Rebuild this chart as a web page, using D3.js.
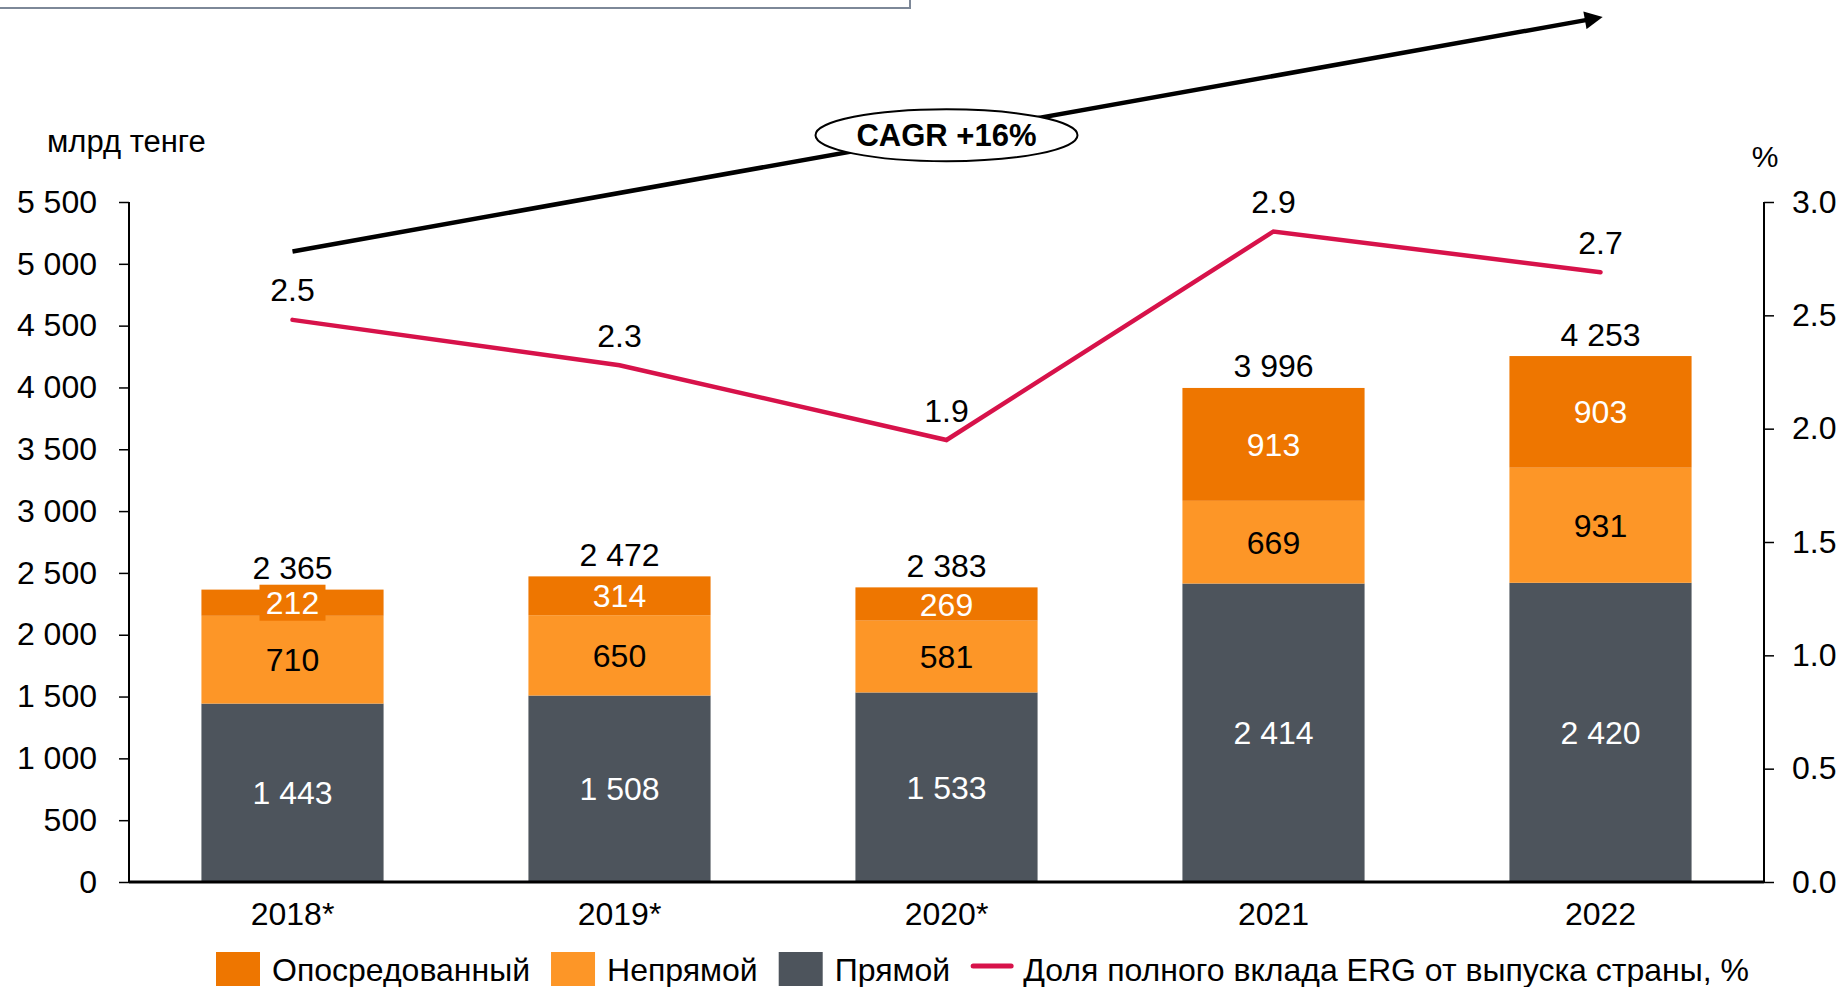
<!DOCTYPE html>
<html><head><meta charset="utf-8">
<script src="https://cdn.jsdelivr.net/npm/d3@7"></script>
<style>
html,body{margin:0;padding:0;background:#fff;}
text{font-family:"Liberation Sans",Arial,sans-serif;}
</style></head>
<body><svg id="c" width="1840" height="987"></svg>
<script>
const categories = ["2018*","2019*","2020*","2021","2022"];
const direct = [1443,1508,1533,2414,2420];        // Прямой
const indirect = [710,650,581,669,931];           // Непрямой
const induced = [212,314,269,913,903];            // Опосредованный
const totalLabels = [2365,2472,2383,3996,4253];
const shareValues = [2.48,2.28,1.95,2.87,2.69];
const shareLabels = ["2.5","2.3","1.9","2.9","2.7"];
const leftTicks = [0,500,1000,1500,2000,2500,3000,3500,4000,4500,5000,5500];
const rightTicks = [0,0.5,1.0,1.5,2.0,2.5,3.0];
const seriesNames = ["Опосредованный","Непрямой","Прямой"];
const lineName = "Доля полного вклада ERG от выпуска страны, %";
const cagrText = "CAGR +16%";

const C = {induced:"#ee7600", indirect:"#fd9627", direct:"#4d545c", line:"#d7124a"};
const svg = d3.select("#c");
const L = 129, R = 1764, T = 202, B = 882;
const fmt = d3.formatLocale({decimal:".", thousands:"\u00a0", grouping:[3], currency:["",""]}).format(",d");

const x = d3.scaleBand().domain(categories).range([L,R]).paddingInner(0.443).paddingOuter(0.2215);
const y = d3.scaleLinear().domain([0,5500]).range([B,T]);
const y2 = d3.scaleLinear().domain([0,3]).range([B,T]);

// top-left frame remnant
svg.append("rect").attr("x",-6).attr("y",-10).attr("width",916).attr("height",18)
  .attr("fill","#fff").attr("stroke","#7d8898").attr("stroke-width",2);

// stacked data
const rows = categories.map((c,i)=>({cat:c, direct:direct[i], indirect:indirect[i], induced:induced[i]}));
const stack = d3.stack().keys(["direct","indirect","induced"])(rows);
const g = svg.append("g");
stack.forEach(s=>{
  g.selectAll(null).data(s).join("rect")
    .attr("x",d=>x(d.data.cat)).attr("width",x.bandwidth())
    .attr("y",d=>y(d[1])).attr("height",d=>y(d[0])-y(d[1]))
    .attr("fill",C[s.key]);
});
// segment labels
const fs = 32;
stack.forEach(s=>{
  const col = s.key==="indirect" ? "#000" : "#fff";
  if (s.key==="induced") {
    g.selectAll(null).data(s.filter(d=>y(d[0])-y(d[1])<30)).join("rect")
      .attr("x",d=>x(d.data.cat)+x.bandwidth()/2-33).attr("width",66)
      .attr("y",d=>(y(d[0])+y(d[1]))/2-18).attr("height",36)
      .attr("fill",C.induced);
  }
  g.selectAll(null).data(s).join("text")
    .attr("x",d=>x(d.data.cat)+x.bandwidth()/2)
    .attr("y",d=>(y(d[0])+y(d[1]))/2)
    .attr("dy","0.36em").attr("text-anchor","middle")
    .attr("font-size",fs).attr("fill",col)
    .text(d=>fmt(d[1]-d[0]));
});
// totals
g.selectAll(null).data(rows).join("text")
  .attr("x",d=>x(d.cat)+x.bandwidth()/2)
  .attr("y",(d,i)=>y(d.direct+d.indirect+d.induced)-22)
  .attr("dy","0.36em").attr("text-anchor","middle").attr("font-size",fs).attr("fill","#000")
  .text((d,i)=>fmt(totalLabels[i]));

// axes
const ax = svg.append("g").attr("transform",`translate(${L},0)`)
  .call(d3.axisLeft(y).tickValues(leftTicks).tickSize(10).tickPadding(22).tickFormat(fmt));
const ax2 = svg.append("g").attr("transform",`translate(${R},0)`)
  .call(d3.axisRight(y2).tickValues(rightTicks).tickSize(10).tickPadding(18).tickFormat(d3.format(".1f")));
[ax,ax2].forEach(a=>{
  a.select(".domain").attr("stroke","#000").attr("stroke-width",2).attr("d",`M0,${T}V${B}`);
  a.selectAll(".tick line").attr("stroke","#000").attr("stroke-width",1.5);
  a.selectAll(".tick text").attr("font-size",fs).attr("fill","#000").attr("font-family","Liberation Sans, Arial, sans-serif");
});
const axb = svg.append("g").attr("transform",`translate(0,${B})`)
  .call(d3.axisBottom(x).tickSize(0).tickPadding(20));
axb.select(".domain").attr("stroke","#000").attr("stroke-width",3).attr("d",`M${L},0H${R}`);
axb.selectAll(".tick text").attr("font-size",fs).attr("fill","#000").attr("font-family","Liberation Sans, Arial, sans-serif");

svg.append("text").attr("x",47).attr("y",141).attr("dy","0.36em").attr("font-size",31).text("млрд тенге");
svg.append("text").attr("x",R+1).attr("y",156).attr("dy","0.36em").attr("text-anchor","middle").attr("font-size",30).text("%");

// share line
const cx = c=>x(c)+x.bandwidth()/2;
svg.append("path").datum(shareValues)
  .attr("d", d3.line().x((d,i)=>cx(categories[i])).y(d=>y2(d)))
  .attr("fill","none").attr("stroke",C.line).attr("stroke-width",4.5).attr("stroke-linecap","round");
svg.selectAll(null).data(shareValues).join("text")
  .attr("x",(d,i)=>cx(categories[i])).attr("y",d=>y2(d)-30)
  .attr("dy","0.36em").attr("text-anchor","middle").attr("font-size",fs)
  .text((d,i)=>shareLabels[i]);

// CAGR arrow
const defs = svg.append("defs");
defs.append("marker").attr("id","ah").attr("viewBox","0 0 10 10").attr("refX",2).attr("refY",5)
  .attr("markerWidth",4.5).attr("markerHeight",4).attr("orient","auto")
  .append("path").attr("d","M0,0L10,5L0,10z").attr("fill","#000");
const ax0 = cx(categories[0]), ay0 = y(5100), ax1 = cx(categories[4])-12, ay1 = y(6975);
svg.append("line").attr("x1",ax0).attr("y1",ay0).attr("x2",ax1).attr("y2",ay1)
  .attr("stroke","#000").attr("stroke-width",4.5).attr("marker-end","url(#ah)");
const ex = cx(categories[2]), ey = y(6040);
svg.append("ellipse").attr("cx",ex).attr("cy",ey).attr("rx",131).attr("ry",26)
  .attr("fill","#fff").attr("stroke","#000").attr("stroke-width",2);
svg.append("text").attr("x",ex).attr("y",ey).attr("dy","0.36em").attr("text-anchor","middle")
  .attr("font-size",31).attr("font-weight","bold").text(cagrText);

// legend
const lg = svg.append("g");
let lx = 216; const ly = 969;
const items = [{n:seriesNames[0],c:C.induced},{n:seriesNames[1],c:C.indirect},{n:seriesNames[2],c:C.direct},{n:lineName,c:C.line,line:true}];
items.forEach(it=>{
  if (it.line) {
    lg.append("line").attr("x1",lx+2).attr("x2",lx+40).attr("y1",ly-3).attr("y2",ly-3)
      .attr("stroke",it.c).attr("stroke-width",5).attr("stroke-linecap","round");
    lx += 52;
  } else {
    lg.append("rect").attr("x",lx).attr("y",ly-17).attr("width",44).attr("height",34).attr("fill",it.c);
    lx += 56;
  }
  const t = lg.append("text").attr("x",lx).attr("y",ly).attr("dy","0.36em").attr("font-size",fs).text(it.n);
  lx += t.node().getComputedTextLength() + 21;
});
</script></body></html>
